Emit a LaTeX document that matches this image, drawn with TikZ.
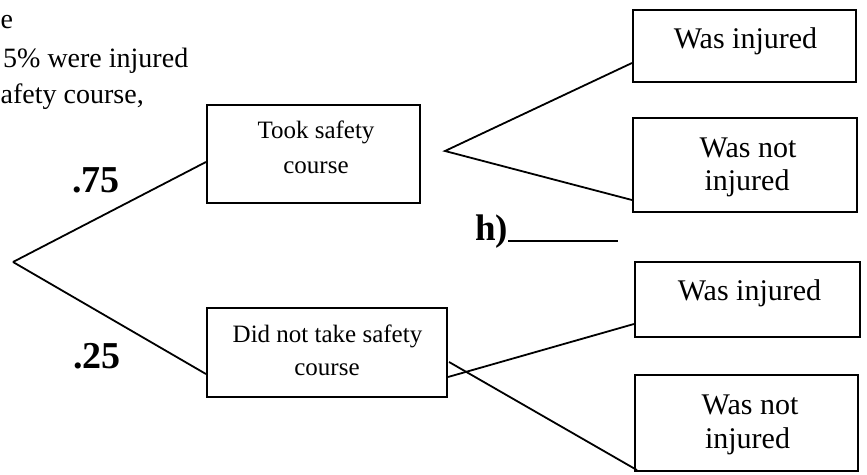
\documentclass[tikz,border=0pt]{standalone}
\usepackage{fontspec}
\setmainfont{Liberation Serif}
\usetikzlibrary{calc}
\begin{document}
\begin{tikzpicture}[x=1pt,y=-1pt,
  box/.style 2 args={draw, line width=2.1pt, inner sep=0pt, minimum width=#1, minimum height=#2},
  lbl/.style={font=\fontsize{30}{33}\selectfont, inner sep=0pt, anchor=base},
  sml/.style={font=\fontsize{25}{30}\selectfont, inner sep=0pt, anchor=base},
  prob/.style={font=\fontsize{38}{40}\selectfont\bfseries, inner sep=0pt, anchor=base west},
  toptxt/.style={font=\fontsize{28}{32}\selectfont, inner sep=0pt, anchor=base west},
  link/.style={line width=1.8pt}
]
\clip (0,0) rectangle (867,474);
\fill[white] (0,0) rectangle (867,474);

% text fragments at top left
\node[toptxt] (ta) at (0.5,28) {e};
\node[toptxt] (tb) at (3,67) {5\% were injured};
\node[toptxt] (tc) at (0.5,103) {afety course,};

% boxes
\node[box={213pt}{98pt}] (took) at (313.5,154) {};
\node[box={240pt}{89pt}] (didnot) at (327,352.5) {};
\node[box={223pt}{72pt}] (inj1) at (744.5,46) {};
\node[box={224pt}{94pt}] (notinj1) at (745,165) {};
\node[box={225pt}{75pt}] (inj2) at (747.5,299.5) {};
\node[box={223pt}{96pt}] (notinj2) at (746.5,423) {};

% box texts
\node[sml] (tookA) at (316,138) {Took safety};
\node[sml] (tookB) at (316,173) {course};
\node[sml] (didA) at (327.5,342) {Did not take safety};
\node[sml] (didB) at (327,375) {course};
\node[lbl] (inj1t) at (745.5,48) {Was injured};
\node[lbl] (ni1a) at (748,157) {Was not};
\node[lbl] (ni1b) at (747,190) {injured};
\node[lbl] (inj2t) at (749.5,300) {Was injured};
\node[lbl] (ni2a) at (750,414) {Was not};
\node[lbl] (ni2b) at (747.5,448) {injured};

% probabilities and answer blank
\node[prob] (p75) at (72,192) {.75};
\node[prob] (p25) at (73,368) {.25};
\node[prob, font=\fontsize{37}{40}\selectfont\bfseries] (hans) at (475,240) {h)\rule[-1.5pt]{110pt}{1.5pt}};

% connectors
\coordinate (root) at (13,262);
\coordinate (split) at (445,151);
\draw[link] (root) -- ($(took.west)+(0,8)$);
\draw[link] (root) -- ($(didnot.west)+(0,21.5)$);
\draw[link] ($(inj1.west)+(0,17)$) -- (split) -- ($(notinj1.west)+(0,35)$);
\draw[link] ($(didnot.east)+(0,24.5)$) -- ($(inj2.west)+(0,24.5)$);
\draw[link] ($(didnot.east)+(1,9.5)$) -- ($(notinj2.south west)+(3,-2)$);
\end{tikzpicture}
\end{document}
